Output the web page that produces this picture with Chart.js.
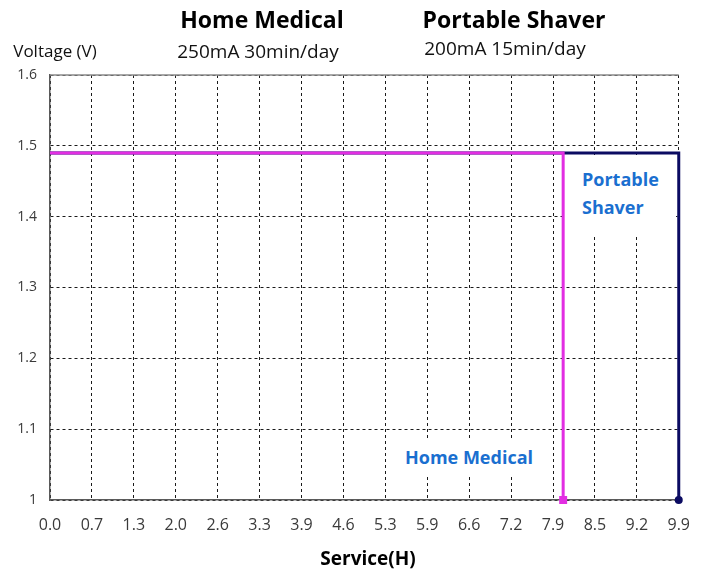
<!DOCTYPE html>
<html>
<head>
<meta charset="utf-8">
<script src="https://cdn.jsdelivr.net/npm/chart.js@4"></script>
<style>
  html, body { margin: 0; padding: 0; background: #fff; }
  #wrap { position: relative; width: 706px; height: 573px; font-family: "Open Sans", sans-serif; }
  canvas { position: absolute; left: 0; top: 0; }
  .t { position: absolute; white-space: nowrap; transform: translate(-50%, -50%); line-height: 1; }
  .box { position: absolute; background: #fff; }
  .lbl { position: absolute; white-space: nowrap; color: #1a6fd0; font-weight: bold; font-size: 18px; line-height: 1; }
  .c { transform: translate(-50%, -50%); }
  .l { transform: translate(0, -50%); }
</style>
</head>
<body>
<div id="wrap">
  <canvas id="c" width="706" height="573"></canvas>
  <div class="t" style="left:262px; top:19px; font-weight:bold; font-size:23px; color:#000;">Home Medical</div>
  <div class="t" style="left:258px; top:51px; font-size:19px; color:#111;">250mA 30min/day</div>
  <div class="t" style="left:514px; top:19px; font-weight:bold; font-size:23px; color:#000;">Portable Shaver</div>
  <div class="t" style="left:505px; top:48px; font-size:19px; color:#111;">200mA 15min/day</div>
  <div class="t" style="left:55px; top:50px; font-size:17px; color:#111;">Voltage (V)</div>
  <div class="t" style="left:368px; top:558px; font-weight:bold; font-size:19px; color:#000;">Service(H)</div>
  <div class="box" style="left:396px; top:439px; width:149px; height:38px;"></div>
  <div class="lbl c" style="left:469px; top:457px;">Home Medical</div>
  <div class="box" style="left:566px; top:155px; width:110px; height:81px;"></div>
  <div class="lbl l" style="left:582px; top:179px;">Portable</div>
  <div class="lbl l" style="left:582px; top:207px;">Shaver</div>
</div>
<script>
// ---- data ----
const xTickLabels = ['0.0','0.7','1.3','2.0','2.6','3.3','3.9','4.6','5.3','5.9','6.6','7.2','7.9','8.5','9.2','9.9'];
const xMin = 0;
const xMax = 9.9;
const yMin = 1.0;
const yMax = 1.6;
const yStep = 0.1;

const homeMedicalX = [0, 8.08, 8.08];
const homeMedicalY = [1.49, 1.49, 1.0];
const portableShaverX = [0, 9.9, 9.9];
const portableShaverY = [1.49, 1.49, 1.0];

const toPoints = (xs, ys) => xs.map((x, i) => ({ x: x, y: ys[i] }));

const topFrame = {
  id: 'topFrame',
  beforeDatasetsDraw(chart) {
    const { ctx, chartArea } = chart;
    ctx.save();
    ctx.strokeStyle = '#8a8a8a';
    ctx.lineWidth = 1.5;
    ctx.beginPath();
    ctx.moveTo(chartArea.left, chartArea.top);
    ctx.lineTo(chartArea.right, chartArea.top);
    ctx.stroke();
    ctx.restore();
  }
};

new Chart(document.getElementById('c'), {
  type: 'scatter',
  data: {
    datasets: [
      {
        label: 'Home Medical',
        data: toPoints(homeMedicalX, homeMedicalY),
        showLine: true,
        borderColor: '#e22ee2',
        backgroundColor: '#e22ee2',
        borderWidth: 3,
        pointStyle: 'rect',
        pointRadius: [0, 0, 3.5],
        pointHoverRadius: 0,
        tension: 0,
        clip: false
      },
      {
        label: 'Portable Shaver',
        data: toPoints(portableShaverX, portableShaverY),
        showLine: true,
        borderColor: '#0b0b62',
        backgroundColor: '#0b0b62',
        borderWidth: 3,
        pointStyle: 'circle',
        pointRadius: [0, 0, 2.5],
        pointHoverRadius: 0,
        tension: 0,
        clip: false
      }
    ]
  },
  options: {
    responsive: false,
    animation: false,
    events: [],
    layout: { padding: { left: 0, right: 27, top: 75, bottom: 0 } },
    plugins: { legend: { display: false }, tooltip: { enabled: false } },
    scales: {
      x: {
        type: 'linear',
        min: xMin,
        max: xMax,
        afterBuildTicks(scale) {
          scale.ticks = xTickLabels.map((l, i) => ({ value: xMin + i * (xMax - xMin) / (xTickLabels.length - 1) }));
        },
        afterFit(scale) { scale.height = 73; },
        ticks: {
          autoSkip: false,
          maxRotation: 0,
          padding: 16,
          color: '#3a3a3a',
          font: { family: 'Open Sans', size: 16 },
          callback: (v, i) => xTickLabels[i]
        },
        grid: { color: '#1a1a1a', lineWidth: 1, drawTicks: false, borderDash: [3, 3] },
        border: { display: true, color: '#5a5a5a', width: 1.5, dash: [3, 3] }
      },
      y: {
        type: 'linear',
        min: yMin,
        max: yMax,
        afterFit(scale) { scale.width = 50; },
        ticks: {
          stepSize: yStep,
          padding: 13,
          color: '#3a3a3a',
          font: { family: 'Open Sans', size: 14 },
          callback: (v) => (Math.abs(v - 1) < 1e-9 ? '1' : v.toFixed(1))
        },
        grid: { color: '#1a1a1a', lineWidth: 1, drawTicks: false, borderDash: [3, 3] },
        border: { display: true, color: '#5a5a5a', width: 1.5, dash: [3, 3] }
      }
    }
  },
  plugins: [topFrame]
});
</script>
</body>
</html>
